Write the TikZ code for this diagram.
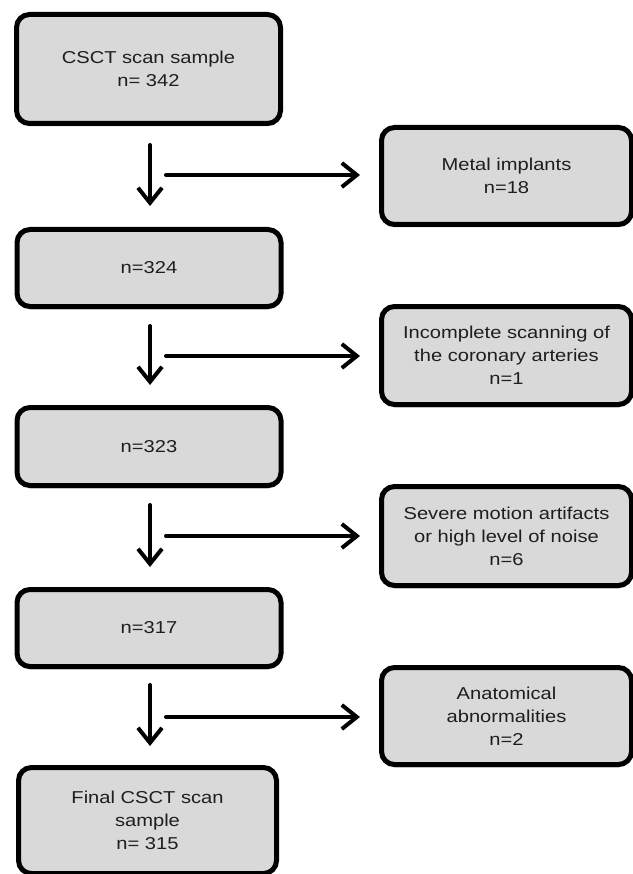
\documentclass[tikz,border=0pt]{standalone}
\usepackage{fontspec}
\setmainfont[FakeStretch=1.17]{Liberation Sans}
\usetikzlibrary{arrows.meta,shadows}
\definecolor{boxfill}{HTML}{D9D9D9}
\definecolor{txt}{HTML}{1E1E1E}
\tikzset{
  fbox/.style={draw=black, line width=5pt, fill=boxfill, rounded corners=13pt,
    align=center, text=txt, inner sep=0pt,
    font=\fontsize{17.2pt}{23pt}\selectfont,
    drop shadow={shadow xshift=0pt, shadow yshift=-3pt, opacity=0.18, fill=black}},
  lbox/.style={fbox, minimum width=264pt},
  rbox/.style={fbox, minimum width=250pt},
  flow/.style={line width=4pt, -{Straight Barb[length=15pt,width=24pt]}, line cap=round, line join=round}
}
\begin{document}
\begin{tikzpicture}[x=1pt,y=-1pt]
\useasboundingbox (0,0) rectangle (632,874);
\fill[white] (0,0) rectangle (632,874);
% left column
\node[lbox, minimum height=109pt] (b1) at (148.5,69) {CSCT scan sample\\n= 342};
\node[lbox, minimum height=77pt] (b2) at (149,268) {n=324};
\node[lbox, minimum height=78pt] (b3) at (149,446.5) {n=323};
\node[lbox, minimum height=77pt] (b4) at (149,628) {n=317};
\node[fbox, minimum width=258pt, minimum height=106pt] (b5) at (147.5,820.5) {Final CSCT scan\\sample\\n= 315};
% right column
\node[rbox, minimum height=97pt] (r1) at (506.5,176) {Metal implants\\n=18};
\node[rbox, minimum height=98pt] (r2) at (506.5,355.5) {Incomplete scanning of\\the coronary arteries\\n=1};
\node[rbox, minimum height=99pt] (r3) at (506.5,536) {Severe motion artifacts\\or high level of noise\\n=6};
\node[rbox, minimum height=97pt] (r4) at (506.5,716) {Anatomical\\abnormalities\\n=2};
% vertical arrows
\coordinate (v1) at (150,0);
\draw[flow, shorten <=19pt, shorten >=21pt] (b1.south -| v1) -- (b2.north -| v1);
\draw[flow, shorten <=17pt, shorten >=20pt] (b2.south -| v1) -- (b3.north -| v1);
\draw[flow, shorten <=17pt, shorten >=20pt] (b3.south -| v1) -- (b4.north -| v1);
\draw[flow, shorten <=16pt, shorten >=19pt] (b4.south -| v1) -- (b5.north -| v1);
% horizontal arrows
\coordinate (j1) at (166,175);
\coordinate (j2) at (166,356);
\coordinate (j3) at (166,536);
\coordinate (j4) at (166,717);
\draw[flow, shorten >=19pt] (j1) -- (j1 -| r1.west);
\draw[flow, shorten >=19pt] (j2) -- (j2 -| r2.west);
\draw[flow, shorten >=19pt] (j3) -- (j3 -| r3.west);
\draw[flow, shorten >=19pt] (j4) -- (j4 -| r4.west);
\end{tikzpicture}
\end{document}
